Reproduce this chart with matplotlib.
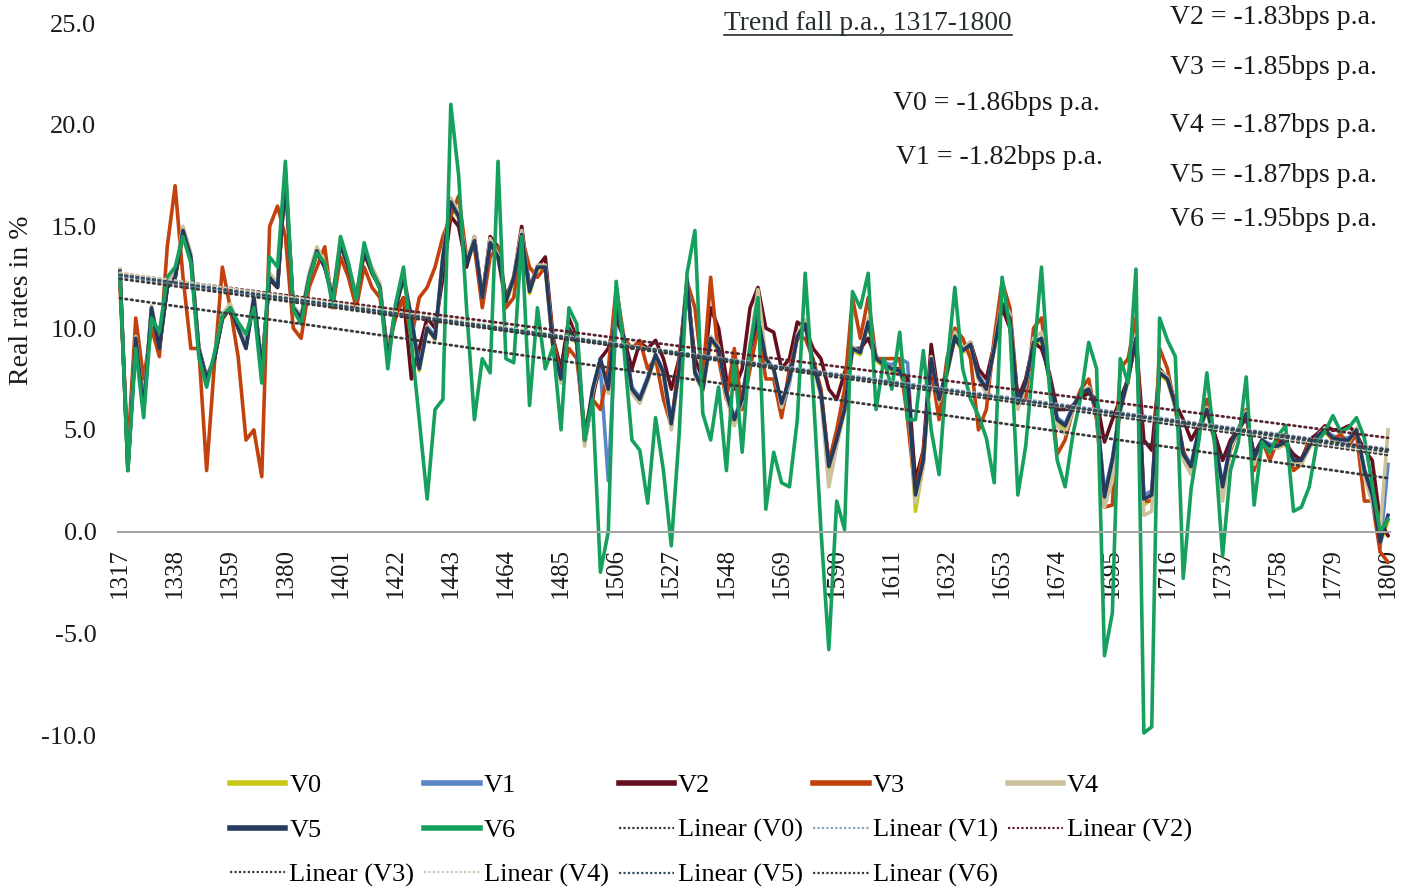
import numpy as np
import matplotlib
matplotlib.use('Agg')
import matplotlib.pyplot as plt
from matplotlib.lines import Line2D

plt.rcParams['font.family'] = ['Liberation Serif', 'DejaVu Serif']

# values, one point every 3 years 1317-1800
years = np.arange(1317, 1801, 3)

v5 = [12.8, 3.0, 9.5, 6.0, 11.0, 9.0, 12.0, 12.5, 14.8, 13.5,
      9.0, 7.5, 8.5, 10.5, 11.0, 10.0, 9.0, 11.5, 8.0, 12.5,
      12.0, 17.5, 11.0, 10.5, 12.5, 13.8, 13.0, 11.5, 14.2, 13.0,
      11.5, 13.8, 12.8, 12.0, 8.5, 11.0, 12.5, 10.5, 8.0, 10.0,
      9.5, 13.5, 16.2, 15.5, 13.2, 14.3, 11.5, 14.2, 13.5, 11.3,
      12.5, 14.6, 11.8, 13.0, 13.0, 9.0, 7.5, 10.0, 9.3, 4.5,
      7.0, 8.5, 7.0, 11.0, 9.5, 7.0, 6.5, 7.5, 8.7, 7.8,
      5.3, 8.0, 12.4, 7.8, 7.0, 9.5, 9.0, 6.8, 5.5, 6.5,
      9.0, 10.5, 8.5, 8.0, 6.3, 7.5, 9.6, 10.2, 8.3, 6.8,
      3.2, 4.5, 6.0, 9.0, 8.8, 10.3, 8.5, 8.2, 8.0, 7.9,
      7.0, 1.8, 3.5, 8.5, 6.5, 7.8, 9.6, 8.9, 9.2, 7.6,
      7.0, 9.0, 11.2, 10.5, 6.3, 7.3, 9.3, 9.5, 7.5, 5.5,
      5.2, 6.1, 6.8, 7.0, 6.0, 1.7, 3.5, 6.0, 7.5, 9.5,
      1.6, 1.8, 7.8, 7.5, 6.2, 3.8, 3.2, 5.0, 6.0, 4.5,
      2.2, 4.3, 5.0, 5.8, 3.6, 4.5, 4.2, 4.2, 4.4, 3.5,
      3.5, 4.2, 4.7, 5.0, 4.6, 4.5, 4.5, 5.0, 3.0, 1.8, -0.5, 0.8]

v0 = [12.7, 3.0, 9.4, 6.0, 10.9, 9.0, 12.0, 12.4, 14.7, 13.4,
      9.0, 7.4, 8.5, 10.4, 11.0, 10.0, 9.0, 11.4, 8.0, 12.4,
      12.0, 17.4, 11.0, 10.5, 12.4, 13.7, 13.0, 11.5, 14.1, 13.0,
      11.5, 13.7, 12.7, 12.0, 8.4, 11.0, 12.4, 10.4, 7.9, 10.0,
      9.4, 13.4, 16.0, 15.4, 13.1, 14.2, 11.4, 14.1, 13.4, 11.2,
      12.4, 14.5, 11.7, 12.9, 12.9, 8.9, 7.4, 9.9, 9.2, 4.3,
      6.9, 8.4, 6.8, 10.9, 9.4, 6.9, 6.4, 7.4, 8.6, 7.7,
      5.1, 7.9, 12.3, 7.7, 6.9, 9.4, 8.9, 6.6, 5.3, 6.4,
      8.9, 10.5, 8.4, 7.9, 6.1, 7.4, 9.5, 10.1, 8.2, 6.6,
      3.0, 4.3, 5.9, 8.9, 8.7, 10.2, 8.4, 8.1, 7.9, 7.8,
      6.8, 1.0, 3.3, 8.4, 6.4, 7.7, 9.5, 8.8, 9.1, 7.5,
      6.9, 8.9, 11.1, 10.4, 6.1, 7.2, 9.2, 9.4, 7.4, 5.3,
      5.0, 6.0, 6.7, 6.9, 5.9, 1.5, 3.3, 5.9, 7.4, 9.4,
      1.3, 1.6, 7.7, 7.4, 6.1, 3.6, 3.0, 4.9, 5.9, 4.4,
      2.0, 4.2, 4.9, 5.7, 3.4, 4.4, 4.1, 4.1, 4.3, 3.4,
      3.4, 4.1, 4.6, 4.9, 4.5, 4.4, 4.4, 4.9, 2.9, 1.6, -0.6, 0.5]

v1 = [12.8, 3.1, 9.5, 6.1, 11.0, 9.1, 12.0, 12.5, 14.8, 13.5,
      9.1, 7.5, 8.6, 10.5, 11.0, 10.1, 9.1, 11.5, 8.1, 12.5,
      12.1, 17.5, 11.1, 10.6, 12.5, 13.8, 13.1, 11.6, 14.2, 13.1,
      11.6, 13.8, 12.8, 12.1, 8.6, 11.0, 12.5, 10.5, 8.1, 10.1,
      9.6, 13.5, 16.1, 15.5, 13.2, 14.3, 11.6, 14.2, 13.5, 11.4,
      12.5, 14.6, 11.9, 13.0, 13.0, 9.1, 7.6, 10.0, 9.3, 4.6,
      6.8, 8.0, 2.5, 10.5, 9.5, 7.1, 6.6, 7.6, 8.7, 7.9,
      5.4, 8.0, 12.4, 7.9, 7.1, 9.5, 9.0, 6.9, 5.6, 6.6,
      9.0, 10.6, 8.5, 8.0, 5.8, 7.3, 9.6, 10.2, 8.3, 6.9,
      3.4, 4.6, 6.1, 9.0, 8.8, 10.3, 8.6, 8.3, 8.2, 8.5,
      8.3, 2.0, 3.6, 8.6, 6.6, 7.9, 9.6, 8.9, 9.2, 7.7,
      7.1, 9.0, 11.2, 10.5, 6.4, 7.4, 9.3, 9.5, 7.6, 5.6,
      5.3, 6.2, 6.8, 7.0, 6.1, 1.9, 3.6, 6.1, 7.6, 9.6,
      1.8, 2.0, 7.9, 7.6, 6.3, 3.9, 3.3, 5.1, 6.0, 4.6,
      2.3, 4.4, 5.0, 5.8, 3.7, 4.5, 4.3, 4.3, 4.5, 3.6,
      3.6, 4.3, 4.8, 5.0, 4.7, 4.6, 4.6, 5.0, 3.1, 1.9, -0.8, 3.3]

v2 = [12.7, 3.2, 9.5, 6.2, 10.9, 9.0, 12.0, 12.5, 14.6, 13.4,
      9.0, 7.6, 8.5, 10.5, 11.0, 10.0, 9.2, 11.4, 8.2, 12.4,
      12.0, 17.3, 11.0, 10.5, 12.4, 13.7, 13.0, 11.5, 14.1, 13.0,
      11.5, 13.7, 12.7, 12.0, 8.6, 10.8, 11.5, 7.5, 9.0, 10.5,
      10.0, 12.5, 15.5, 15.0, 13.0, 14.5, 11.5, 14.5, 14.0, 11.5,
      12.5, 15.0, 12.0, 13.0, 13.5, 9.5, 8.0, 10.5, 9.5, 4.4,
      6.5, 8.5, 9.0, 10.5, 9.5, 8.0, 9.3, 9.0, 9.4, 8.5,
      7.0, 8.5, 12.0, 8.5, 7.5, 11.0, 10.0, 7.5, 7.0, 8.0,
      11.0, 12.0, 10.0, 9.8, 8.0, 8.5, 10.3, 10.0, 9.0, 8.5,
      7.0, 6.5, 7.8, 9.0, 9.0, 9.5, 8.5, 8.2, 8.0, 8.0,
      7.5, 2.5, 4.0, 9.2, 6.5, 8.0, 9.5, 9.0, 9.3, 8.0,
      7.5, 9.2, 11.0, 10.0, 6.5, 7.5, 9.3, 9.0, 7.8, 6.0,
      6.0, 6.2, 6.6, 6.8, 6.5, 4.4, 5.5, 6.5, 7.5, 9.5,
      4.5, 4.0, 8.0, 7.5, 6.3, 5.5, 4.5, 5.2, 6.0, 4.8,
      3.5, 4.5, 5.0, 5.6, 3.8, 4.5, 4.0, 4.5, 4.3, 3.8,
      3.5, 4.5, 4.8, 5.2, 5.0, 5.0, 5.2, 4.8, 4.0, 3.5, 0.5, -0.2]

v3 = [12.0, 4.0, 10.5, 7.5, 10.0, 8.6, 14.0, 17.0, 12.5, 9.0,
      9.0, 3.0, 8.3, 13.0, 11.0, 8.6, 4.5, 5.0, 2.7, 15.0,
      16.0, 14.5, 10.0, 9.5, 12.0, 13.0, 14.0, 11.0, 13.5, 12.5,
      11.0, 13.0, 12.0, 11.5, 9.0, 10.5, 11.5, 9.5, 11.5, 12.0,
      13.0, 14.5, 15.5, 16.5, 13.5, 14.0, 11.0, 13.5, 14.0, 11.0,
      11.5, 14.5, 13.0, 12.5, 13.0, 9.5, 7.5, 9.0, 8.5, 5.0,
      6.5, 6.0, 8.0, 12.0, 9.5, 9.0, 9.4, 8.0, 8.5, 6.5,
      5.2, 8.5, 12.3, 11.0, 7.5, 12.5, 8.5, 6.5, 9.0, 6.0,
      8.0, 10.0, 7.5, 7.5, 5.6, 8.0, 9.5, 9.5, 8.5, 7.0,
      3.4, 5.0, 7.0, 11.5, 9.5, 11.5, 8.5, 8.5, 8.5, 8.5,
      5.5, 1.8, 4.0, 8.0, 5.5, 8.5, 10.0, 9.5, 8.5, 5.0,
      6.0, 9.5, 12.3, 11.0, 6.5, 6.5, 10.0, 10.5, 7.5, 3.8,
      4.5, 6.0, 7.0, 7.5, 5.5, 1.2, 1.3, 8.0, 8.5, 10.5,
      1.5, 1.5, 9.0, 8.0, 6.0, 4.0, 3.0, 5.0, 6.5, 4.5,
      2.0, 4.0, 5.0, 6.0, 3.0, 4.5, 3.5, 4.5, 4.8, 3.0,
      3.3, 4.5, 4.5, 5.0, 4.5, 4.8, 4.2, 4.8, 1.5, 1.5, -1.0, -1.5]

v4 = [12.9, 3.1, 9.6, 6.1, 11.1, 9.1, 12.2, 12.8, 15.0, 13.7,
      9.1, 7.5, 8.6, 10.7, 11.2, 10.2, 9.1, 11.7, 8.1, 12.7,
      12.2, 17.8, 11.1, 10.6, 12.7, 14.0, 13.2, 11.6, 14.5, 13.2,
      11.6, 14.0, 13.0, 12.2, 8.6, 11.2, 12.7, 10.6, 8.0, 10.1,
      9.4, 13.6, 16.4, 15.7, 13.3, 14.5, 11.5, 14.4, 13.6, 11.3,
      12.6, 14.8, 11.8, 13.1, 13.1, 8.9, 7.3, 10.1, 9.3, 4.2,
      6.8, 8.5, 6.8, 11.1, 9.5, 6.8, 6.3, 7.4, 8.7, 7.7,
      5.0, 8.0, 12.6, 7.7, 6.9, 9.6, 9.1, 6.6, 5.2, 6.4,
      9.2, 11.9, 8.6, 8.0, 6.1, 7.4, 9.7, 10.4, 8.3, 6.6,
      2.2, 4.2, 6.0, 9.1, 8.8, 10.5, 8.5, 8.2, 8.0, 7.9,
      6.8, 1.4, 3.2, 8.6, 6.4, 7.8, 9.8, 9.0, 9.3, 7.5,
      6.8, 9.1, 11.4, 10.7, 6.0, 7.2, 9.5, 9.8, 7.5, 5.2,
      4.8, 6.0, 6.8, 7.1, 5.9, 1.2, 2.5, 5.9, 7.5, 9.7,
      0.8, 1.0, 7.9, 7.6, 6.1, 3.5, 2.8, 4.9, 6.1, 4.4,
      1.5, 4.1, 5.0, 5.9, 3.3, 4.5, 4.1, 4.1, 4.4, 3.3,
      3.3, 4.1, 4.7, 5.1, 4.6, 4.4, 4.4, 5.1, 2.7, 1.4, 0.0, 5.0]

v6 = [12.6, 3.0, 9.0, 5.6, 10.5, 9.8, 12.5, 13.0, 14.5, 13.2,
      8.6, 7.1, 8.8, 10.6, 11.0, 10.3, 9.7, 11.0, 7.3, 13.5,
      13.0, 18.2, 10.9, 10.2, 12.4, 13.7, 13.2, 11.1, 14.5, 13.2,
      11.4, 14.2, 12.8, 11.9, 8.0, 11.2, 13.0, 9.3, 5.5, 1.6,
      6.0, 6.5, 21.0, 17.5, 11.0, 5.5, 8.5, 7.8, 18.2, 8.5,
      8.3, 14.5, 6.2, 11.0, 8.0, 9.1, 5.0, 11.0, 10.2, 4.5,
      6.5, -2.0, 0.0, 12.3, 8.9, 4.5, 4.0, 1.4, 5.6, 3.0,
      -0.7, 4.8, 12.7, 14.8, 5.8, 4.5, 7.1, 3.0, 8.4, 3.9,
      9.1, 11.5, 1.1, 3.9, 2.4, 2.2, 5.5, 12.7, 7.0, 0.1,
      -5.8, 1.5, 0.1, 11.8, 11.0, 12.7, 6.0, 8.5, 7.0, 9.8,
      5.5, 5.5, 8.9, 5.0, 2.8, 8.1, 12.0, 8.0, 6.5, 5.7,
      4.6, 2.4, 12.5, 10.0, 1.8, 4.2, 8.5, 13.0, 7.1, 3.5,
      2.2, 4.8, 6.6, 9.3, 8.0, -6.1, -4.0, 8.5, 7.3, 12.9,
      -9.9, -9.6, 10.5, 9.4, 8.6, -2.3, 2.1, 4.5, 7.8, 4.2,
      -1.2, 3.0, 4.4, 7.6, 1.3, 4.4, 3.9, 4.7, 5.2, 1.0,
      1.2, 2.2, 4.4, 4.9, 5.7, 4.9, 5.1, 5.6, 4.6, 2.3, 0.0, 0.6]

names = ['V0', 'V1', 'V2', 'V3', 'V4', 'V5', 'V6']
series = [v0, v1, v2, v3, v4, v5, v6]
colors = ['#C8C814', '#5A86C5', '#650F1E', '#C2410C', '#CBC29C', '#243A5E', '#16A05E']
trend_colors = ['#3A3A3A', '#8FA3C0', '#5A2430', '#3A3A3A', '#CFC9B2', '#2F4F5F', '#3A3A3A']
trend_text = ['V0 = -1.86bps p.a.', 'V1 = -1.82bps p.a.', 'V2 = -1.83bps p.a.',
              'V3 = -1.85bps p.a.', 'V4 = -1.87bps p.a.', 'V5 = -1.87bps p.a.',
              'V6 = -1.95bps p.a.']

W, H = 1413, 888
fig = plt.figure(figsize=(W / 100, H / 100), dpi=100)
ax = fig.add_axes([118 / W, 1 - 735 / H, 1272 / W, 712 / H])

for name, vals, c in zip(names, series, colors):
    ax.plot(years, vals, color=c, lw=2.6, solid_joinstyle='round', zorder=2)

# Excel-style linear trendlines
xs = np.array([1317, 1800])
for vals, c in zip(series, trend_colors):
    slope, icpt = np.polyfit(years, vals, 1)
    ax.plot(xs, slope * xs + icpt, color=c, lw=2.0,
            linestyle=(0, (0.6, 1.4)), dash_capstyle='round', zorder=3)

for s in ['top', 'right', 'left']:
    ax.spines[s].set_visible(False)
ax.spines['bottom'].set_position(('data', 0))
ax.spines['bottom'].set_color('#A6A6A6')
ax.spines['bottom'].set_linewidth(1.5)

ax.set_xlim(1316.24, 1800.76)
ax.set_ylim(-10, 25)
ax.set_yticks(np.arange(-10, 26, 5))
ax.set_yticklabels(['%.1f' % t for t in np.arange(-10, 26, 5)])
ax.set_xticks(np.arange(1317, 1801, 21))
ax.set_xticklabels([str(t) for t in np.arange(1317, 1801, 21)])
ax.tick_params(axis='both', length=0, colors='#1a1a1a')
ax.tick_params(axis='y', pad=15.5, labelsize=19)
ax.tick_params(axis='x', pad=12, labelsize=18, labelrotation=90)

fig.text(22 / W, 1 - 300 / H, 'Real rates in %', rotation=90, fontsize=20,
         ha='center', va='center', color='#1a1a1a')

# trend annotations
title = fig.text(724 / W, 1 - 24 / H, 'Trend fall p.a., 1317-1800', fontsize=19.8,
                 ha='left', va='center', color='#243028')
text_pos = [(893, 103), (896, 157), (1170, 18), (1170, 68), (1170, 126),
            (1170, 175), (1170, 219)]
for txt, (px, py) in zip(trend_text, text_pos):
    fig.text(px / W, 1 - py / H, txt, fontsize=20, ha='left', va='center',
             color='#1a1a1a')

fig.canvas.draw()
bb = title.get_window_extent().transformed(fig.transFigure.inverted())
fig.add_artist(Line2D([bb.x0, bb.x1], [bb.y0 + 0.002, bb.y0 + 0.002],
                      transform=fig.transFigure, color='#243028', lw=1.2))

# legend, row-major order like Excel
series_h = [Line2D([], [], color=c, lw=4) for c in colors]
trend_h = [Line2D([], [], color=c, lw=1.6, linestyle=(0, (1, 1)))
           for c in trend_colors]
handles = series_h + trend_h
labels = names + ['Linear (%s)' % n for n in names]
ncol = 5
order = []
for c in range(ncol):
    r = 0
    while r * ncol + c < len(handles):
        order.append(r * ncol + c)
        r += 1
fig.legend([handles[i] for i in order], [labels[i] for i in order],
           ncol=ncol, loc='upper left', bbox_to_anchor=(230 / W, 1 - 774 / H),
           frameon=False, fontsize=19, handlelength=2.1, handletextpad=0.15,
           columnspacing=0.38, labelspacing=0.8, borderaxespad=0, borderpad=0)

fig.savefig('out.png', dpi=100)
